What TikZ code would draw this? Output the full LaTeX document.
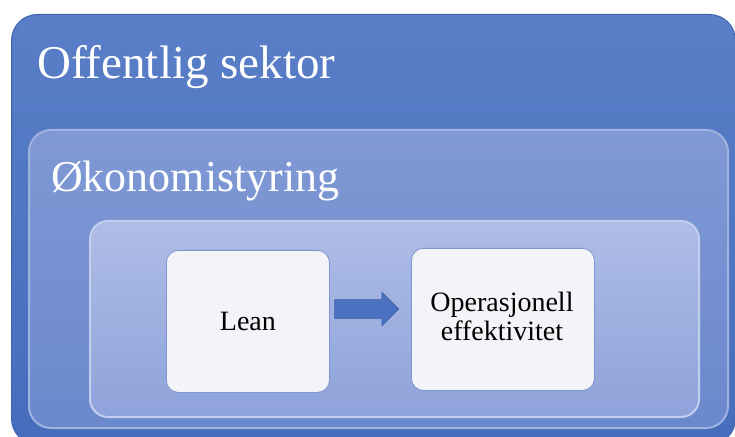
\documentclass[tikz,border=0pt]{standalone}
\usepackage{fontspec}
\setmainfont{Liberation Serif}
\usetikzlibrary{shapes.arrows,positioning}
\definecolor{outerTop}{HTML}{5A7EC7}
\definecolor{outerBot}{HTML}{466DBC}
\definecolor{outerEdge}{HTML}{3F63AE}
\definecolor{midTop}{HTML}{8099D5}
\definecolor{midBot}{HTML}{6A88CC}
\definecolor{midEdge}{HTML}{9FB2E0}
\definecolor{innTop}{HTML}{AFBDE6}
\definecolor{innBot}{HTML}{8EA3DA}
\definecolor{innEdge}{HTML}{C3CEEE}
\definecolor{cardFill}{HTML}{F3F4F8}
\definecolor{cardEdge}{HTML}{7F95CF}
\definecolor{arrFill}{HTML}{4A72C0}
\definecolor{arrEdge}{HTML}{3A5FA8}
\tikzset{
  panel/.style={rectangle, inner sep=0pt, anchor=north west},
  outerpanel/.style={panel, rounded corners=26bp, top color=outerTop, bottom color=outerBot, draw=outerEdge, line width=1bp},
  midpanel/.style={panel, rounded corners=22bp, top color=midTop, bottom color=midBot, draw=midEdge, line width=2bp},
  innpanel/.style={panel, rounded corners=18bp, top color=innTop, bottom color=innBot, draw=innEdge, line width=2bp},
  card/.style={panel, rounded corners=12bp, fill=cardFill, draw=cardEdge, line width=0.8bp},
  bigtitle/.style={anchor=base west, inner sep=0pt, text=white, font=\fontsize{47bp}{52bp}\selectfont},
  midtitle/.style={anchor=base west, inner sep=0pt, text=white, font=\fontsize{44bp}{50bp}\selectfont},
  cardtext/.style={inner sep=0pt, align=center, text=black, font=\fontsize{28bp}{30bp}\selectfont},
  blockarrow/.style={single arrow, fill=arrFill, draw=arrEdge, line width=0.6bp, inner xsep=0pt, inner ysep=9bp,
    minimum height=64bp, minimum width=33bp, single arrow head extend=7.5bp, single arrow head indent=0bp}
}
\begin{document}
\begin{tikzpicture}[x=1bp,y=-1bp]
\useasboundingbox (0,0) rectangle (735,437);
\clip (0,0) rectangle (735,437);
\node[outerpanel, minimum width=724bp, minimum height=430bp] (outer) at (11,14) {};
\node[midpanel, minimum width=699bp, minimum height=298bp] (mid) at (28,129) {};
\node[innpanel, minimum width=609bp, minimum height=196bp] (inn) at (89,220) {};
\node[card, minimum width=163bp, minimum height=142bp] (lean) at (166,250) {};
\node[card, minimum width=183bp, minimum height=142bp] (op) at (411,248) {};
\node[bigtitle] (t1) at (37,79) {Offentlig sektor};
\node[midtitle] (t2) at (51,192) {Økonomistyring};
\node[cardtext] (leantxt) at (lean.center) {Lean};
\node[cardtext, anchor=base] (optxt1) at (502,312) {Operasjonell};
\node[cardtext, anchor=base] (optxt2) at (502,341) {effektivitet};
\node[blockarrow] (arr) at (362,309) {};
\end{tikzpicture}
\end{document}
